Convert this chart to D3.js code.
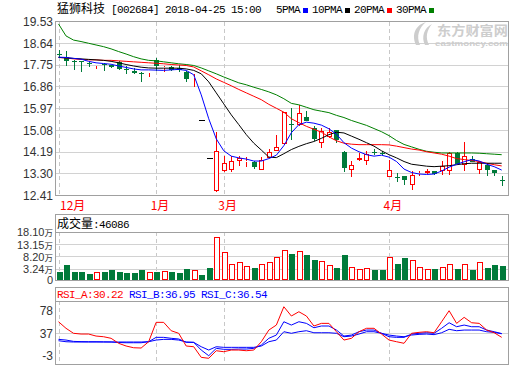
<!DOCTYPE html>
<html><head><meta charset="utf-8">
<script src="https://cdn.jsdelivr.net/npm/d3@7"></script>
<style>body{margin:0;background:#fff}svg{display:block}</style>
</head><body><svg id="c" width="520" height="365"></svg>
<script>
// ---------------- data ----------------
const opens=[18.20,18.09,17.93,17.90,17.83,17.74,17.79,17.75,17.86,17.59,
17.52,17.42,17.43,17.94,17.62,17.66,17.64,17.48,17.22,15.48,
13.93,12.60,13.43,13.44,13.84,13.80,13.77,13.47,13.95,14.22,
14.53,15.32,15.28,15.64,15.17,14.56,14.80,15.10,14.18,13.44,
13.87,13.84,14.20,14.16,13.15,13.16,13.20,12.86,13.32,13.33,
13.42,13.40,13.40,14.15,13.67,13.90,13.47,13.67,13.44,13.03];
const highs=[18.37,18.33,17.94,17.91,17.86,17.77,17.82,17.77,17.90,17.69,
17.62,17.48,17.46,18.05,17.72,17.70,17.75,17.50,17.38,15.48,
13.93,15.00,14.01,14.01,14.01,13.99,13.83,13.97,14.33,14.90,
15.83,15.99,16.12,15.88,15.25,15.17,15.17,15.10,14.22,13.81,
14.15,14.24,14.33,14.22,13.88,13.32,13.20,13.40,13.40,13.50,
13.42,13.84,14.19,14.19,14.58,14.01,13.84,13.70,13.46,13.20];
const lows=[18.05,17.69,17.55,17.48,17.65,17.58,17.52,17.64,17.55,17.37,
17.37,17.05,17.24,17.52,17.48,17.50,17.48,17.05,16.83,15.48,
13.93,12.55,13.38,13.38,13.60,13.57,13.51,13.47,13.95,14.22,
14.53,14.69,15.25,15.44,14.64,14.35,14.78,14.56,13.38,13.15,
13.81,13.65,14.06,14.06,13.15,12.95,12.86,12.62,13.19,13.29,
13.25,13.24,13.24,13.70,13.40,13.78,13.29,13.20,13.20,12.79];
const closes=[18.18,17.92,17.91,17.88,17.81,17.76,17.77,17.66,17.58,17.57,
17.44,17.40,17.45,17.70,17.68,17.56,17.55,17.17,17.25,15.48,
13.93,14.24,13.74,13.84,13.95,13.82,13.56,13.88,14.19,14.40,
15.83,15.30,15.78,15.44,14.72,15.03,15.01,14.69,13.54,13.67,
13.93,14.11,14.18,14.14,13.47,13.14,13.03,13.24,13.34,13.42,
13.29,13.60,14.15,13.70,14.01,13.78,13.78,13.44,13.33,13.01];
const ma5=[18.07,18.06,18.02,17.99,17.90,17.84,17.81,17.78,17.71,17.65,
17.59,17.55,17.55,17.54,17.53,17.55,17.57,17.53,17.35,16.53,
15.55,14.73,14.24,14.02,13.95,13.90,13.82,13.82,13.92,14.06,
14.45,14.98,15.31,15.41,15.37,15.29,15.14,14.92,14.57,14.35,
14.20,14.08,14.02,14.06,13.98,13.80,13.49,13.35,13.29,13.27,
13.29,13.41,13.57,13.69,13.79,13.88,13.82,13.69,13.59,13.45];
const ma10=[18.06,18.04,18.02,18.00,17.98,17.96,17.94,17.90,17.84,17.77,
17.71,17.66,17.63,17.62,17.62,17.62,17.62,17.59,17.53,17.39,
17.06,16.61,16.16,15.71,15.31,14.90,14.55,14.27,13.98,13.96,
14.12,14.29,14.42,14.53,14.62,14.75,14.90,15.00,14.97,14.84,
14.71,14.57,14.43,14.24,14.08,13.95,13.80,13.69,13.65,13.61,
13.59,13.61,13.63,13.67,13.71,13.73,13.73,13.73,13.73,13.73];
const ma20=[18.06,18.04,18.00,17.98,17.96,17.96,17.94,17.94,17.92,17.90,
17.88,17.86,17.84,17.82,17.80,17.77,17.75,17.73,17.67,17.51,
17.35,17.18,17.04,16.90,16.75,16.61,16.47,16.33,16.14,15.98,
15.82,15.55,15.39,15.24,15.12,15.00,14.81,14.65,14.55,14.51,
14.49,14.49,14.49,14.49,14.48,14.43,14.37,14.31,14.27,14.20,
14.15,14.10,14.02,13.92,13.88,13.84,13.80,13.73,13.67,13.62];
const ma30=[19.43,18.94,18.77,18.71,18.64,18.57,18.50,18.41,18.30,18.20,
18.09,18.00,17.94,17.92,17.88,17.84,17.80,17.77,17.73,17.63,
17.51,17.39,17.26,17.14,17.02,16.94,16.84,16.75,16.65,16.53,
16.37,16.18,16.12,16.02,15.92,15.86,15.80,15.69,15.60,15.48,
15.38,15.28,15.15,15.02,14.86,14.66,14.50,14.40,14.30,14.22,
14.18,14.15,14.15,14.15,14.15,14.15,14.14,14.12,14.10,14.08];
const volumes=[2.27,4.98,2.27,2.27,1.33,2.14,2.27,2.96,2.27,1.86,
1.86,2.96,2.14,2.27,2.55,2.27,1.86,3.36,2.96,0.93,
3.77,16.22,10.14,5.39,6.20,4.58,3.77,5.39,6.20,8.23,
10.95,9.45,10.54,9.04,7.01,6.61,4.86,3.77,9.04,4.05,
3.24,3.65,2.96,2.96,8.11,5.39,7.82,6.89,4.05,3.24,
3.36,4.05,5.39,3.36,5.39,2.96,6.20,3.77,4.98,4.61];
const rsiA=[58.0,46.3,37.4,36.1,36.1,32.5,31.3,28.5,19.6,14.8,
11.7,11.2,22.4,56.9,56.9,42.0,37.4,14.8,13.5,-5.4,
-7.1,6.4,4.6,7.6,7.6,6.4,7.6,22.4,43.2,52.1,
84.7,68.2,75.8,68.2,50.4,55.1,55.1,40.2,25.4,28.5,
40.2,46.3,46.3,36.1,25.4,22.4,19.6,37.4,39.1,40.2,
38.4,58.0,77.6,55.1,65.8,56.2,55.1,43.2,38.4,30.22];
const rsiB=[26.6,25.4,23.0,22.6,22.4,22.4,22.2,22.0,21.0,20.6,
20.6,20.6,22.4,30.2,30.2,28.5,27.3,21.3,21.3,7.6,
-2.5,10.6,8.9,8.9,9.4,9.4,10.6,16.5,28.5,34.3,
58.0,52.1,58.0,55.1,47.3,50.4,50.4,43.2,32.5,34.3,
40.2,43.2,43.2,37.4,31.3,30.2,30.2,36.1,37.4,38.4,
37.4,46.3,56.2,49.1,52.1,49.1,49.1,43.2,40.2,36.95];
const rsiC=[24.2,22.4,21.9,21.9,21.9,21.9,21.9,21.9,21.9,21.9,
21.9,21.9,22.4,25.4,26.6,26.6,25.4,22.0,21.3,13.5,
7.6,13.5,12.4,12.4,12.4,12.4,12.4,14.8,22.4,25.4,
40.2,37.4,40.2,42.0,38.4,38.4,38.4,37.4,31.3,32.5,
36.1,40.2,40.2,37.4,34.3,32.5,31.3,34.3,35.5,36.1,
35.0,38.4,44.5,42.0,43.2,43.2,43.2,40.2,39.1,36.54];
const priceTicks=[19.53,18.64,17.75,16.86,15.97,15.08,14.19,13.30,12.41];
const volTicks=[18.10,13.15,8.20,3.24];
const volTickLabels=["18.10万","13.15万","8.20万","3.24万"];
const rsiTicks=[78,37,-3];
const rsiGrid=[37];
const monthIdx=[0,13,22,44];
const monthLabels=["12月","1月","3月","4月"];
const maNames=["5PMA","10PMA","20PMA","30PMA"];
const titleName="猛狮科技", titleCode="[002684] 2018-04-25 15:00";
const volName="成交量", volLast=":46086";
const rsiNames=["RSI_A:30.22 ","RSI_B:36.95 ","RSI_C:36.54"];

// ---------------- styles ----------------
const RED="#ff0000", GRN="#007a3a", BLUE="#0000ff";
const FRAME="#a0a0a0", GRID="#d2d2d2", DASH="#c8c8c8", AXT="#333";
const MONO="'Liberation Mono','DejaVu Sans Mono',monospace";
const CJK="'Noto Sans CJK SC','Noto Sans',sans-serif";
const SANS="'Liberation Sans',Arial,sans-serif";
const maColors=[BLUE,"#000000",RED,"#008000"];

const svg=d3.select("#c");
const L=55.5,R=508.5;
const x=d3.scaleLinear().domain([0,59]).range([58.5,501.7]);
const cx=i=>Math.round(x(i))+0.5;
const yP=d3.scaleLinear().domain([12.41,19.53]).range([195.5,21.5]);
const yV=d3.scaleLinear().domain([-1.10,18.10]).range([280,232.3]);
const yR=d3.scaleLinear().domain([-3,78]).range([356,310.5]);
const px=v=>Math.round(v-0.5)+0.5;

function mixed(sel,parts){
  parts.forEach(p=>{
    const t=sel.append("tspan").text(p.t).attr("fill",p.c||"#000");
    if(p.mono){t.attr("font-family",MONO).attr("font-size",11).attr("letter-spacing",-0.6);}
    else {t.attr("font-family",CJK).attr("font-size",12);}
  });
}

// ---------- header ----------
mixed(svg.append("text").attr("x",57).attr("y",13),
  [{t:titleName},{t:" ",mono:true},{t:titleCode,mono:true}]);
let lx=276;
maNames.forEach((n,k)=>{
  const t=svg.append("text").attr("x",lx).attr("y",13);
  mixed(t,[{t:n,mono:true}]);
  const w=n.length*6;
  svg.append("rect").attr("x",lx+w+3).attr("y",8).attr("width",5).attr("height",5).attr("fill",maColors[k]);
  lx+=w+3+5+4;
});

// ---------- main pane ----------
const gM=svg.append("g").attr("shape-rendering","crispEdges");
gM.selectAll("line.g").data(priceTicks).join("line")
  .attr("x1",L).attr("x2",R).attr("y1",d=>px(yP(d))).attr("y2",d=>px(yP(d)))
  .attr("stroke",GRID);
// watermark
const wm=svg.append("g").attr("fill","#cdcdcd");
wm.append("path").attr("d","M426,22 C416,25 411,34 416,45 L420,45 C416,36 419,28 426,22 Z M432,24 C424,28 421,37 425,45 L429,45 C425,37 427,30 432,24 Z");
wm.append("text").attr("x",437).attr("y",35).attr("font-family",CJK).attr("font-weight","bold")
  .attr("font-size",13).attr("textLength",71).attr("lengthAdjust","spacingAndGlyphs").text("东方财富网");
wm.append("text").attr("x",435).attr("y",46).attr("font-family",SANS).attr("font-weight","bold")
  .attr("font-size",8).attr("textLength",73).attr("lengthAdjust","spacingAndGlyphs").text("eastmoney.com");

const dashG=svg.append("g").attr("shape-rendering","crispEdges").attr("stroke",DASH).attr("stroke-dasharray","4,3");
[[21.5,195.5],[232.3,280],[301,364]].forEach(([a,b])=>{
  dashG.selectAll(null).data(monthIdx).join("line")
    .attr("x1",d=>cx(d)).attr("x2",d=>cx(d)).attr("y1",a).attr("y2",b);
});

svg.append("g").selectAll("text").data(priceTicks).join("text")
  .attr("x",53).attr("y",d=>yP(d)).attr("dy","0.36em").attr("text-anchor","end")
  .attr("font-family",SANS).attr("font-size",12).attr("fill",AXT).text(d=>d.toFixed(2));

// candles
const idx=d3.range(opens.length);
const cg=svg.append("g").attr("shape-rendering","crispEdges");
idx.forEach(i=>{
  const o=opens[i],c=closes[i],h=highs[i],l=lows[i];
  const xc=cx(i);
  const col=c>o?RED:(c<o?GRN:"#000");
  const top=Math.round(yP(Math.max(o,c))), bot=Math.max(Math.round(yP(Math.min(o,c))),top+1);
  const yh=Math.round(yP(h)), yl=Math.round(yP(l));
  if(o===c && h===l){
    cg.append("line").attr("x1",xc-3).attr("x2",xc+3).attr("y1",top+0.5).attr("y2",top+0.5).attr("stroke",col);
    return;
  }
  if(yh<top) cg.append("line").attr("x1",xc).attr("x2",xc).attr("y1",yh).attr("y2",top).attr("stroke",col);
  if(yl>bot) cg.append("line").attr("x1",xc).attr("x2",xc).attr("y1",bot).attr("y2",yl).attr("stroke",col);
  if(c>o){
    cg.append("rect").attr("x",xc-2).attr("y",top+0.5).attr("width",4).attr("height",Math.max(bot-top-1,0))
      .attr("fill","#fff").attr("stroke",col);
  } else {
    cg.append("rect").attr("x",xc-2.5).attr("y",top).attr("width",5).attr("height",Math.max(bot-top,1)).attr("fill",col);
  }
});

// MA lines
const line=d3.line().x((d,i)=>x(i)).y(d=>yP(d));
[ma30,ma20,ma10,ma5].forEach((s,k)=>{
  svg.append("path").attr("d",line(s)).attr("fill","none").attr("stroke",maColors[3-k]).attr("stroke-width",1);
});

// month labels
svg.append("g").selectAll("text").data(monthIdx).join("text")
  .attr("x",d=>Math.max(x(d)-5.5,60)).attr("y",210).attr("font-family",CJK).attr("font-size",12)
  .attr("fill",RED).text((d,k)=>monthLabels[k]);

// ---------- volume pane ----------
const gV=svg.append("g").attr("shape-rendering","crispEdges");
gV.selectAll("line").data(volTicks.slice(1)).join("line")
  .attr("x1",L).attr("x2",R).attr("y1",d=>px(yV(d))).attr("y2",d=>px(yV(d))).attr("stroke",GRID);
mixed(svg.append("text").attr("x",57).attr("y",228),[{t:volName},{t:volLast,mono:true}]);
svg.append("g").selectAll("text").data(volTicks).join("text")
  .attr("x",53).attr("y",d=>yV(d)).attr("dy","0.36em").attr("text-anchor","end")
  .attr("font-family",SANS).attr("font-size",11).attr("fill",AXT)
  .each(function(d,k){
    const t=d3.select(this);
    t.append("tspan").text(volTickLabels[k].replace("万",""));
    t.append("tspan").attr("font-family",CJK).attr("font-size",8.5).text("万");
  });
svg.append("text").attr("x",53).attr("y",yV.range()[0]).attr("dy","0.36em").attr("text-anchor","end")
  .attr("font-family",SANS).attr("font-size",11).attr("fill",AXT).text("0");
const base=yV.range()[0];
idx.forEach(i=>{
  const xc=cx(i), t=Math.round(yV(volumes[i]));
  if(closes[i]>opens[i]){
    gV.append("rect").attr("x",xc-2.5).attr("y",t+0.5).attr("width",5).attr("height",base-t-1)
      .attr("fill","#fff").attr("stroke",RED);
  } else {
    gV.append("rect").attr("x",xc-3).attr("y",t).attr("width",6).attr("height",base-t).attr("fill",GRN);
  }
});

// ---------- RSI pane ----------
const gR=svg.append("g").attr("shape-rendering","crispEdges");
gR.selectAll("line").data(rsiGrid).join("line")
  .attr("x1",L).attr("x2",R).attr("y1",d=>px(yR(d))).attr("y2",d=>px(yR(d))).attr("stroke",GRID);
mixed(svg.append("text").attr("x",57).attr("y",298),
  [{t:rsiNames[0],mono:true,c:RED},{t:rsiNames[1],mono:true,c:BLUE},{t:rsiNames[2],mono:true,c:BLUE}]);
svg.append("g").selectAll("text").data(rsiTicks).join("text")
  .attr("x",53).attr("y",d=>yR(d)).attr("dy","0.36em").attr("text-anchor","end")
  .attr("font-family",SANS).attr("font-size",12).attr("fill",AXT).text(d=>d);
const rl=d3.line().x((d,i)=>x(i)).y(d=>yR(d));
[[rsiC,BLUE],[rsiB,BLUE],[rsiA,RED]].forEach(([s,c])=>{
  svg.append("path").attr("d",rl(s)).attr("fill","none").attr("stroke",c).attr("stroke-width",1);
});

// ---------- frames ----------
const fr=svg.append("g").attr("shape-rendering","crispEdges").attr("fill","none").attr("stroke",FRAME);
fr.append("rect").attr("x",L).attr("y",21.5).attr("width",R-L).attr("height",174);
fr.append("rect").attr("x",L).attr("y",214.5).attr("width",R-L).attr("height",65.5);
fr.append("line").attr("x1",L).attr("x2",R).attr("y1",232.5).attr("y2",232.5);
fr.append("rect").attr("x",L).attr("y",287.5).attr("width",R-L).attr("height",76.5);
fr.append("line").attr("x1",L).attr("x2",R).attr("y1",301.5).attr("y2",301.5);
</script></body></html>
